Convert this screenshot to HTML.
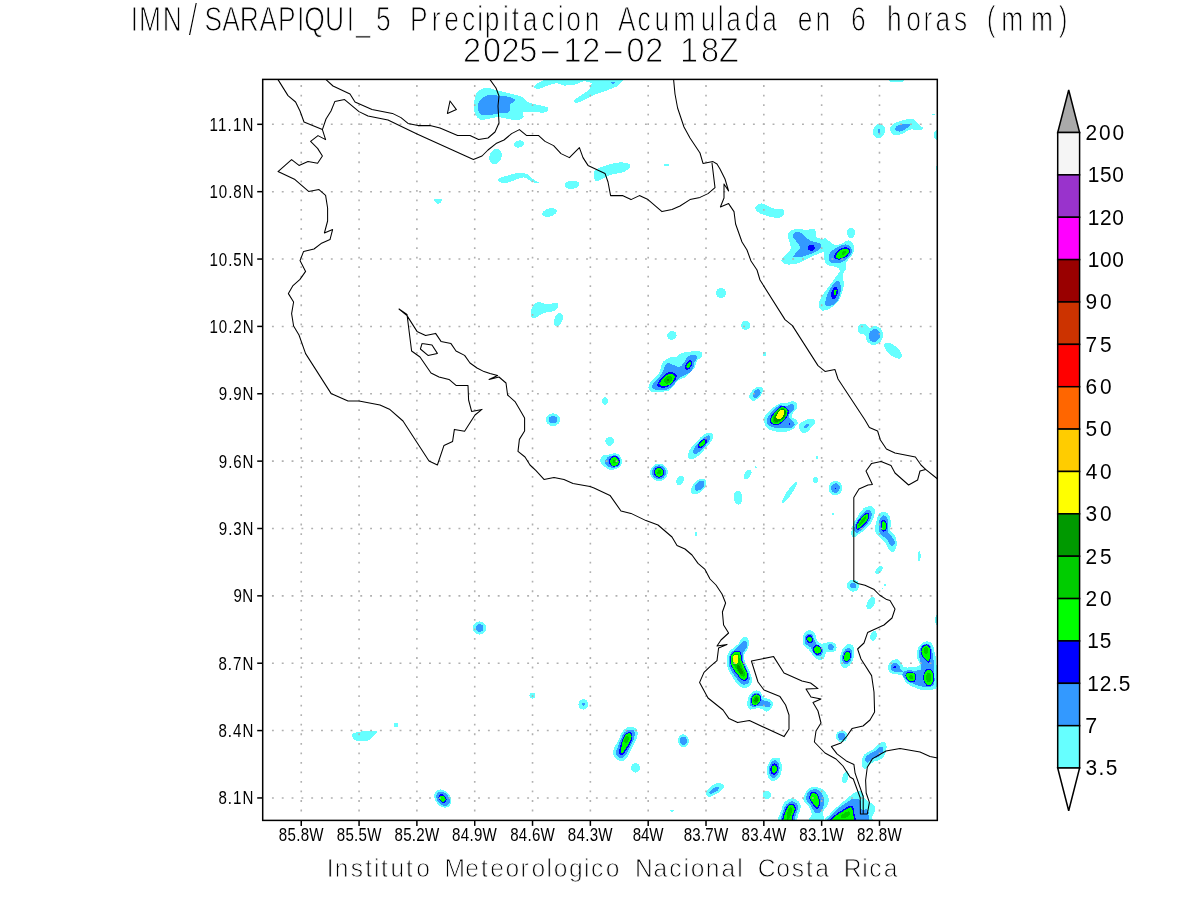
<!DOCTYPE html>
<html lang="es"><head><meta charset="utf-8">
<title>IMN/SARAPIQUI_5 Precipitacion Acumulada en 6 horas (mm)</title>
<style>
html,body{margin:0;padding:0;background:#fff;}
body{width:1200px;height:900px;overflow:hidden;position:relative;}
svg{position:absolute;left:0;top:0;display:block;}
text{font-family:"Liberation Sans",sans-serif;white-space:pre;}
.title{font-size:34.5px;fill:#000;stroke:#fff;stroke-width:1px;}
.ax{font-size:18.2px;fill:#000;stroke:#fff;stroke-width:0px;}
.cb{font-size:21.3px;fill:#000;stroke:#fff;stroke-width:0px;}
.foot{font-size:25.4px;fill:#000;stroke:#fff;stroke-width:0.85px;}
.coast{fill:none;stroke:#000;stroke-width:1.05;stroke-linejoin:round;stroke-linecap:round;}
.grid{fill:none;stroke:#b0b0b0;}
.gv{stroke-width:1.6;stroke-dasharray:1.8 7.733;}
.gh{stroke-width:1.55;stroke-dasharray:1.9 7.916;}
</style></head><body>
<svg width="1200" height="900" viewBox="0 0 1200 900">
<rect x="0" y="0" width="1200" height="900" fill="#fff"/>
<defs><clipPath id="mapclip"><rect x="262.7" y="79.4" width="674.6" height="741.0"/></clipPath></defs>
<g clip-path="url(#mapclip)" id="precip" shape-rendering="crispEdges">
<g fill="#66ffff">
<path d="M434.0 199.6C434.8 198.9 441.0 198.8 442.0 199.4C443.0 200.0 440.8 202.3 440.0 203.0C439.2 203.7 438.0 204.2 437.0 203.6C436.0 203.0 433.2 200.3 434.0 199.6Z"/>
<path d="M474.0 106.0C474.2 102.7 474.7 96.8 476.0 94.0C477.3 91.2 480.0 90.0 482.0 89.0C484.0 88.0 485.7 87.8 488.0 88.0C490.3 88.2 492.0 89.0 496.0 90.0C500.0 91.0 507.7 92.8 512.0 94.0C516.3 95.2 519.3 95.7 522.0 97.0C524.7 98.3 525.3 100.7 528.0 102.0C530.7 103.3 534.8 104.2 538.0 105.0C541.2 105.8 545.3 106.2 547.0 107.0C548.7 107.8 548.5 109.1 548.0 110.0C547.5 110.9 546.7 112.3 544.0 112.6C541.3 112.9 535.5 112.1 532.0 112.0C528.5 111.9 524.4 111.2 523.0 112.0C521.6 112.8 524.4 115.7 523.6 117.0C522.8 118.3 520.6 119.7 518.0 120.0C515.4 120.3 511.3 119.5 508.0 119.0C504.7 118.5 501.3 117.0 498.0 117.0C494.7 117.0 491.0 118.6 488.0 119.0C485.0 119.4 482.2 120.4 480.0 119.6C477.8 118.8 476.0 116.3 475.0 114.0C474.0 111.7 473.8 109.3 474.0 106.0Z"/>
<path d="M533.0 87.0L538.0 83.0L546.0 79.0L624.0 79.0L618.0 86.0L608.0 90.0L596.0 94.0L584.0 100.0L576.0 103.6L573.0 101.0L580.0 96.0L589.0 90.0L592.0 83.0L584.0 81.0L574.0 85.0L564.0 85.6L557.0 83.0L546.0 86.0L538.0 89.6Z"/>
<ellipse cx="519.0" cy="144.0" rx="5.5" ry="3.5" transform="rotate(-10 519.0 144.0)"/>
<ellipse cx="495.5" cy="156.5" rx="6.0" ry="8.0" transform="rotate(20 495.5 156.5)"/>
<path d="M498.0 179.0C498.7 177.8 502.7 177.0 506.0 176.0C509.3 175.0 514.5 173.3 518.0 173.0C521.5 172.7 524.5 173.0 527.0 174.0C529.5 175.0 531.1 177.6 533.0 179.0C534.9 180.4 538.8 182.1 538.6 182.6C538.4 183.1 534.1 182.8 532.0 182.0C529.9 181.2 528.0 178.7 526.0 178.0C524.0 177.3 522.7 177.3 520.0 178.0C517.3 178.7 513.0 181.2 510.0 182.0C507.0 182.8 504.0 183.5 502.0 183.0C500.0 182.5 497.3 180.2 498.0 179.0Z"/>
<ellipse cx="572.0" cy="184.8" rx="7.5" ry="4.0" transform="rotate(-5 572.0 184.8)"/>
<ellipse cx="549.4" cy="212.6" rx="7.5" ry="4.0" transform="rotate(-15 549.4 212.6)"/>
<path d="M594.0 174.0C594.1 172.5 593.3 171.3 595.0 170.0C596.7 168.7 599.8 167.3 604.0 166.0C608.2 164.7 615.8 162.7 620.0 162.4C624.2 162.1 627.3 163.2 629.0 164.0C630.7 164.8 630.8 165.7 630.0 167.0C629.2 168.3 627.3 170.7 624.0 172.0C620.7 173.3 614.3 173.5 610.0 175.0C605.7 176.5 600.6 180.3 598.0 181.0C595.4 181.7 595.1 180.2 594.4 179.0C593.7 177.8 593.9 175.5 594.0 174.0Z"/>
<ellipse cx="666.4" cy="165.0" rx="2.5" ry="1.5"/>
<ellipse cx="896.5" cy="79.5" rx="8.5" ry="3.0"/>
<ellipse cx="879.0" cy="131.0" rx="6.0" ry="7.3" transform="rotate(15 879.0 131.0)"/>
<path d="M890.0 130.0C889.7 128.3 890.3 126.5 892.0 125.0C893.7 123.5 896.5 122.0 900.0 121.0C903.5 120.0 910.0 118.5 913.0 119.0C916.0 119.5 916.3 122.5 918.0 124.0C919.7 125.5 922.7 127.0 923.0 128.0C923.3 129.0 922.2 129.7 920.0 130.0C917.8 130.3 913.0 128.9 910.0 129.6C907.0 130.3 904.7 133.1 902.0 134.0C899.3 134.9 896.0 135.7 894.0 135.0C892.0 134.3 890.3 131.7 890.0 130.0Z"/>
<ellipse cx="933.6" cy="114.4" rx="1.5" ry="0.7"/>
<ellipse cx="937.5" cy="135.0" rx="3.5" ry="5.5"/>
<ellipse cx="937.0" cy="168.0" rx="1.0" ry="2.5"/>
<path d="M755.0 208.0C755.0 206.7 756.7 205.1 758.0 204.4C759.3 203.7 761.0 203.2 763.0 203.6C765.0 204.0 767.8 206.1 770.0 207.0C772.2 207.9 773.8 208.6 776.0 209.0C778.2 209.4 781.7 208.6 783.0 209.4C784.3 210.2 784.5 212.6 784.0 214.0C783.5 215.4 781.7 217.0 780.0 217.6C778.3 218.2 776.7 218.0 774.0 217.6C771.3 217.2 766.7 215.9 764.0 215.0C761.3 214.1 759.5 213.2 758.0 212.0C756.5 210.8 755.0 209.3 755.0 208.0Z"/>
<ellipse cx="851.0" cy="233.0" rx="4.0" ry="5.0"/>
<path d="M781.3 260.6C781.1 259.2 783.9 257.5 785.4 255.4C787.0 253.3 790.2 251.2 790.7 248.1C791.1 245.0 788.2 239.4 788.1 236.6C787.9 233.8 788.3 232.6 789.6 231.4C790.9 230.1 793.1 229.4 795.9 229.1C798.7 228.8 803.2 229.8 806.3 229.8C809.5 229.9 813.0 228.2 814.7 229.3C816.3 230.4 815.2 235.1 816.2 236.6C817.3 238.2 819.3 238.4 820.9 238.7C822.6 239.1 824.3 237.9 826.2 238.7C828.0 239.5 830.0 242.4 831.9 243.4C833.8 244.4 835.8 245.1 837.6 245.0C839.5 244.9 841.0 243.7 842.9 242.9C844.7 242.1 846.9 240.0 848.6 240.3C850.3 240.5 852.3 242.9 853.3 244.4C854.3 246.0 854.6 247.8 854.3 249.7C854.1 251.5 852.8 253.8 851.7 255.4C850.7 257.1 849.0 258.2 848.1 259.6C847.1 261.0 846.3 262.2 846.0 263.8C845.6 265.3 846.4 267.4 846.0 269.0C845.6 270.5 843.8 271.2 843.4 273.2C843.0 275.1 843.3 278.4 843.4 280.5C843.5 282.6 844.2 283.6 843.9 285.7C843.6 287.8 842.9 290.2 841.8 293.0C840.8 295.8 839.6 299.9 837.6 302.4C835.7 304.9 832.8 306.7 830.3 308.1C827.9 309.5 824.9 311.0 823.0 310.7C821.1 310.5 819.4 308.3 818.9 306.6C818.3 304.8 819.0 302.6 819.9 300.3C820.8 298.0 822.3 295.6 824.1 293.0C825.8 290.4 828.4 287.3 830.3 284.6C832.2 282.0 834.0 279.6 835.6 277.3C837.1 275.1 839.6 272.8 839.7 271.1C839.9 269.3 838.3 267.8 836.6 266.9C834.9 266.0 831.2 266.5 829.3 265.9C827.4 265.2 826.0 264.3 825.1 262.7C824.2 261.2 824.2 258.2 824.1 256.5C823.9 254.7 825.3 252.6 824.1 252.3C822.9 251.9 819.7 253.1 816.8 254.4C813.8 255.6 809.8 258.0 806.3 259.6C802.8 261.2 799.2 263.0 795.9 263.8C792.6 264.5 788.9 264.8 786.5 264.3C784.0 263.8 781.4 262.1 781.3 260.6Z"/>
<ellipse cx="851.0" cy="232.4" rx="4.0" ry="4.4"/>
<ellipse cx="721.0" cy="293.0" rx="5.0" ry="5.0"/>
<ellipse cx="745.6" cy="325.4" rx="4.5" ry="4.5"/>
<ellipse cx="764.4" cy="354.0" rx="1.5" ry="2.0"/>
<ellipse cx="863.0" cy="329.0" rx="5.5" ry="5.5"/>
<ellipse cx="874.4" cy="335.6" rx="5.5" ry="6.5" transform="rotate(20 874.4 335.6)" stroke="#66ffff" stroke-width="6.0" stroke-linejoin="round"/>
<ellipse cx="868.0" cy="332.0" rx="5.0" ry="4.5" transform="rotate(30 868.0 332.0)"/>
<ellipse cx="893.0" cy="350.6" rx="11.0" ry="5.0" transform="rotate(40 893.0 350.6)"/>
<path d="M749.0 396.1C749.1 394.9 750.1 393.4 751.3 392.0C752.4 390.6 754.0 388.3 755.8 387.5C757.5 386.7 760.6 386.6 761.8 387.1C762.9 387.6 763.0 389.2 762.9 390.5C762.8 391.8 761.9 393.6 761.0 395.0C760.1 396.4 758.5 397.8 757.3 398.8C756.0 399.8 754.6 400.9 753.5 401.0C752.4 401.1 751.3 399.9 750.5 399.1C749.8 398.3 748.9 397.3 749.0 396.1Z"/>
<path d="M764.0 420.5C764.0 418.8 764.3 417.1 765.5 415.3C766.8 413.4 769.4 411.1 771.5 409.3C773.6 407.4 776.0 405.0 778.3 404.0C780.5 403.0 782.8 403.7 785.0 403.3C787.3 402.8 789.9 401.5 791.8 401.4C793.6 401.3 795.4 401.4 796.3 402.5C797.1 403.6 797.4 406.3 797.0 407.8C796.6 409.3 794.9 410.3 794.0 411.5C793.1 412.8 792.0 414.2 791.8 415.3C791.5 416.3 791.8 417.1 792.5 417.9C793.3 418.6 795.4 418.8 796.3 419.8C797.1 420.7 797.9 422.4 797.8 423.5C797.6 424.6 796.4 425.5 795.5 426.5C794.6 427.5 794.0 428.6 792.5 429.5C791.0 430.4 788.5 431.3 786.5 431.8C784.5 432.3 782.5 432.6 780.5 432.5C778.5 432.4 776.4 431.5 774.5 431.0C772.6 430.5 770.8 430.4 769.3 429.5C767.8 428.6 766.4 427.3 765.5 425.8C764.6 424.3 764.0 422.3 764.0 420.5Z"/>
<path d="M799.3 428.0C799.0 426.9 798.5 425.4 799.3 424.3C800.0 423.1 801.9 421.8 803.8 420.9C805.6 419.9 808.7 418.8 810.5 418.6C812.3 418.5 813.9 419.3 814.6 420.1C815.3 420.9 815.2 422.3 814.6 423.5C814.1 424.7 812.4 425.9 811.3 427.3C810.1 428.6 808.9 430.8 807.5 431.8C806.1 432.7 804.1 433.0 803.0 432.9C801.9 432.8 801.4 431.8 800.8 431.0C800.1 430.2 799.5 429.1 799.3 428.0Z"/>
<path d="M531.0 315.0C530.9 313.5 530.9 310.9 531.6 309.0C532.3 307.1 533.6 304.8 535.0 303.6C536.4 302.4 538.2 301.9 540.0 302.0C541.8 302.1 543.2 304.2 546.0 304.4C548.8 304.6 555.0 302.6 557.0 303.0C559.0 303.4 558.5 305.7 558.0 307.0C557.5 308.3 556.3 310.0 554.0 311.0C551.7 312.0 546.8 312.0 544.0 313.0C541.2 314.0 538.9 316.2 537.0 317.0C535.1 317.8 533.4 318.3 532.4 318.0C531.4 317.7 531.1 316.5 531.0 315.0Z"/>
<ellipse cx="558.4" cy="319.6" rx="4.0" ry="7.0" transform="rotate(20 558.4 319.6)"/>
<ellipse cx="605.0" cy="401.0" rx="3.0" ry="3.8"/>
<ellipse cx="553.0" cy="419.6" rx="4.5" ry="3.5" stroke="#66ffff" stroke-width="5.6" stroke-linejoin="round"/>
<ellipse cx="671.9" cy="335.4" rx="4.7" ry="4.3" transform="rotate(-20 671.9 335.4)"/>
<path d="M648.9 389.9C648.4 388.7 648.1 386.3 648.9 384.4C649.8 382.6 652.3 380.9 654.0 379.0C655.8 377.1 658.1 375.2 659.4 372.8C660.7 370.3 660.7 366.4 661.8 364.2C662.8 362.0 664.1 360.7 665.7 359.6C667.2 358.4 669.3 357.6 671.1 357.2C672.9 356.8 674.9 357.9 676.6 357.2C678.2 356.5 679.3 353.8 681.2 352.9C683.2 352.1 686.0 352.5 688.2 352.2C690.4 351.8 692.2 351.0 694.4 351.0C696.7 351.0 700.6 351.3 701.8 352.2C703.1 353.1 702.7 355.0 701.8 356.4C701.0 357.9 698.0 359.2 696.8 361.1C695.5 363.1 695.6 366.2 694.4 368.1C693.3 370.1 691.3 371.2 689.8 372.8C688.2 374.3 686.9 376.3 685.1 377.4C683.3 378.6 680.8 378.4 678.9 379.8C676.9 381.2 675.1 384.2 673.4 386.0C671.8 387.8 671.1 389.7 668.8 390.7C666.4 391.6 662.2 391.6 659.4 391.8C656.7 392.0 654.2 392.2 652.4 391.8C650.7 391.5 649.5 391.1 648.9 389.9Z"/>
<ellipse cx="609.7" cy="441.2" rx="4.3" ry="4.5" transform="rotate(30 609.7 441.2)"/>
<path d="M600.3 460.7C600.4 459.4 600.6 456.9 601.9 455.9C603.3 454.9 606.2 455.2 608.4 454.8C610.6 454.3 613.0 453.1 614.9 453.2C616.8 453.3 618.6 454.1 619.8 455.3C621.0 456.6 621.8 459.0 622.0 460.7C622.1 462.5 621.7 464.4 620.9 465.6C620.1 466.9 618.8 467.6 617.1 468.3C615.4 469.1 612.6 470.1 610.6 470.0C608.6 469.8 606.7 468.2 605.2 467.2C603.6 466.3 602.2 465.1 601.4 464.0C600.6 462.9 600.2 462.1 600.3 460.7Z"/>
<ellipse cx="659.0" cy="472.4" rx="8.9" ry="8.7"/>
<ellipse cx="680.1" cy="480.5" rx="3.5" ry="4.9" transform="rotate(30 680.1 480.5)"/>
<ellipse cx="698.7" cy="486.4" rx="5.4" ry="9.7" transform="rotate(45 698.7 486.4)"/>
<path d="M688.0 456.4C688.0 455.2 688.1 453.0 689.1 451.0C690.1 449.0 692.1 446.8 694.0 444.5C695.9 442.2 698.5 439.3 700.5 437.5C702.5 435.7 704.1 434.4 705.9 433.7C707.7 432.9 710.1 432.5 711.3 432.8C712.6 433.1 713.2 434.1 713.3 435.3C713.4 436.5 712.9 438.3 711.9 440.2C710.8 442.1 708.7 444.6 707.0 446.7C705.3 448.7 703.4 450.8 701.6 452.6C699.8 454.4 697.8 456.4 696.2 457.5C694.5 458.6 693.0 458.9 691.8 459.1C690.7 459.3 689.8 459.0 689.1 458.6C688.5 458.1 688.0 457.7 688.0 456.4Z"/>
<ellipse cx="696.0" cy="534.0" rx="1.3" ry="2.0"/>
<ellipse cx="709.0" cy="437.0" rx="4.0" ry="4.5"/>
<ellipse cx="817.0" cy="457.6" rx="1.0" ry="1.5"/>
<ellipse cx="747.6" cy="474.4" rx="3.0" ry="5.5" transform="rotate(35 747.6 474.4)"/>
<ellipse cx="755.6" cy="467.4" rx="1.0" ry="1.0"/>
<ellipse cx="789.5" cy="492.5" rx="2.5" ry="13.0" transform="rotate(35 789.5 492.5)"/>
<ellipse cx="738.0" cy="497.6" rx="4.5" ry="7.0" transform="rotate(-5 738.0 497.6)"/>
<ellipse cx="815.5" cy="479.8" rx="2.6" ry="2.9"/>
<ellipse cx="835.4" cy="488.1" rx="6.8" ry="7.2" transform="rotate(20 835.4 488.1)"/>
<ellipse cx="832.9" cy="513.8" rx="1.0" ry="1.0"/>
<path d="M851.3 535.0C851.0 533.0 851.6 528.0 852.7 524.9C853.8 521.8 856.0 519.0 857.8 516.2C859.6 513.5 861.4 510.0 863.6 508.3C865.7 506.6 869.0 506.0 870.8 506.1C872.6 506.2 873.8 507.6 874.4 509.0C875.0 510.4 875.0 512.4 874.4 514.8C873.8 517.2 872.6 520.8 870.8 523.4C869.0 526.1 865.7 528.7 863.6 530.7C861.4 532.6 859.3 533.9 857.8 535.0C856.2 536.1 855.3 537.2 854.2 537.2C853.1 537.2 851.5 537.0 851.3 535.0Z"/>
<path d="M875.1 530.7C874.8 528.0 875.8 523.4 876.6 520.6C877.3 517.7 878.0 514.8 879.4 513.3C880.9 511.9 883.5 511.4 885.2 511.9C886.9 512.4 888.6 514.1 889.6 516.2C890.5 518.4 890.9 522.5 891.0 524.9C891.1 527.3 889.6 528.7 890.3 530.7C891.0 532.6 894.3 534.0 895.3 536.4C896.4 538.9 896.9 542.7 896.8 545.1C896.7 547.5 895.5 549.7 894.6 550.9C893.8 552.1 892.8 552.8 891.7 552.3C890.6 551.9 889.2 549.7 888.1 548.0C887.0 546.3 886.8 544.1 885.2 542.2C883.7 540.3 880.4 538.4 878.7 536.4C877.0 534.5 875.5 533.3 875.1 530.7Z"/>
<ellipse cx="919.2" cy="556.4" rx="1.4" ry="5.1"/>
<ellipse cx="879.0" cy="570.1" rx="2.6" ry="4.6" transform="rotate(40 879.0 570.1)"/>
<ellipse cx="853.2" cy="585.6" rx="6.1" ry="6.1"/>
<ellipse cx="885.2" cy="585.1" rx="1.0" ry="1.0"/>
<ellipse cx="882.3" cy="588.2" rx="0.7" ry="0.7"/>
<ellipse cx="479.6" cy="628.0" rx="3.8" ry="3.8" stroke="#66ffff" stroke-width="5.6" stroke-linejoin="round"/>
<path d="M352.0 735.0C352.4 733.9 353.7 733.1 356.0 732.4C358.3 731.7 362.5 731.2 366.0 731.0C369.5 730.8 376.0 730.0 377.0 731.0C378.0 732.0 373.5 735.4 372.0 737.0C370.5 738.6 370.3 739.9 368.0 740.6C365.7 741.3 360.4 741.3 358.0 741.0C355.6 740.7 354.6 740.0 353.6 739.0C352.6 738.0 351.6 736.1 352.0 735.0Z"/>
<ellipse cx="396.0" cy="725.0" rx="2.5" ry="2.0"/>
<ellipse cx="532.4" cy="695.6" rx="3.0" ry="3.0"/>
<ellipse cx="583.4" cy="704.4" rx="5.0" ry="5.2"/>
<path d="M727.0 663.5C726.8 660.8 726.6 656.7 727.6 654.2C728.6 651.6 731.0 650.1 732.8 648.3C734.7 646.6 737.1 645.4 738.7 643.7C740.2 641.9 740.8 638.9 742.2 637.8C743.5 636.8 745.7 636.5 746.8 637.3C748.0 638.0 749.1 640.5 749.2 642.5C749.3 644.5 748.3 647.4 747.4 649.5C746.5 651.6 744.3 653.2 743.9 655.3C743.5 657.5 744.1 659.6 745.1 662.3C746.1 665.1 748.6 668.8 749.8 671.7C750.9 674.6 752.1 677.5 752.1 679.8C752.1 682.2 751.0 684.3 749.8 685.7C748.5 687.0 746.3 688.0 744.5 688.0C742.7 688.0 740.6 687.4 738.7 685.7C736.7 683.9 734.5 680.0 732.8 677.5C731.2 675.0 729.7 672.8 728.8 670.5C727.8 668.2 727.2 666.2 727.0 663.5Z"/>
<path d="M747.4 703.2C747.5 701.3 747.5 698.2 748.6 696.2C749.7 694.1 751.9 691.7 753.8 690.9C755.8 690.1 758.7 690.4 760.3 691.5C761.8 692.6 761.7 696.1 763.2 697.3C764.6 698.6 767.3 698.1 769.0 699.1C770.7 700.1 772.7 701.6 773.1 703.2C773.5 704.7 772.4 707.0 771.3 708.4C770.3 709.9 768.2 711.8 766.7 711.9C765.1 712.0 763.8 709.6 762.0 709.0C760.3 708.4 758.1 708.3 756.2 708.4C754.2 708.5 751.7 709.8 750.3 709.6C749.0 709.4 748.5 708.3 748.0 707.3C747.5 706.2 747.3 705.0 747.4 703.2Z"/>
<path d="M803.4 644.8C802.5 642.5 802.8 637.8 803.4 635.5C804.0 633.2 805.5 631.6 806.9 630.8C808.4 630.1 810.7 630.1 812.2 630.8C813.6 631.6 814.9 633.9 815.7 635.5C816.4 637.1 815.9 638.8 816.8 640.2C817.8 641.5 819.8 643.3 821.5 643.7C823.3 644.1 825.6 642.8 827.3 642.5C829.1 642.2 830.5 641.5 832.0 641.9C833.5 642.3 835.4 643.5 836.1 644.8C836.8 646.2 836.8 648.8 836.1 650.1C835.4 651.3 833.7 652.0 832.0 652.4C830.3 652.8 827.3 651.7 826.2 652.4C825.0 653.1 825.8 655.2 825.0 656.5C824.2 657.8 822.9 659.6 821.5 660.0C820.1 660.4 818.4 659.8 816.8 658.8C815.3 657.9 813.5 655.7 812.2 654.2C810.8 652.6 810.1 651.1 808.7 649.5C807.2 647.9 804.3 647.2 803.4 644.8Z"/>
<ellipse cx="847.2" cy="655.9" rx="6.8" ry="12.3" transform="rotate(15 847.2 655.9)"/>
<ellipse cx="870.8" cy="603.2" rx="3.7" ry="6.7" transform="rotate(25 870.8 603.2)"/>
<ellipse cx="873.5" cy="635.9" rx="3.3" ry="5.1" transform="rotate(15 873.5 635.9)"/>
<ellipse cx="936.8" cy="620.0" rx="1.5" ry="5.1"/>
<path d="M888.1 668.3C888.0 666.4 888.5 663.7 890.0 662.2C891.4 660.6 894.9 659.1 896.7 659.1C898.5 659.1 899.8 660.8 901.0 662.2C902.2 663.5 902.1 666.2 904.0 667.1C906.0 667.9 909.9 667.4 912.6 667.1C915.2 666.7 919.1 666.6 919.9 665.2C920.7 663.8 918.0 660.8 917.5 658.5C917.0 656.1 916.3 653.6 916.9 651.2C917.5 648.7 919.5 645.4 921.2 643.8C922.8 642.2 924.8 641.4 926.7 641.4C928.5 641.4 930.7 641.6 932.2 643.8C933.6 646.1 934.5 651.6 935.2 654.8C935.9 658.1 936.1 658.3 936.4 663.4C936.7 668.5 937.8 681.0 937.1 685.4C936.3 689.8 934.4 688.9 932.2 689.7C929.9 690.5 926.7 690.7 923.6 690.3C920.5 689.9 916.7 688.5 913.8 687.2C911.0 686.0 908.4 684.9 906.5 683.0C904.5 681.0 903.8 677.0 902.2 675.6C900.6 674.2 898.6 674.8 896.7 674.4C894.8 674.0 892.0 674.2 890.6 673.2C889.2 672.2 888.2 670.1 888.1 668.3Z"/>
<ellipse cx="774.4" cy="769.4" rx="7.4" ry="11.7" transform="rotate(8 774.4 769.4)"/>
<ellipse cx="766.7" cy="794.8" rx="4.1" ry="4.1"/>
<path d="M803.2 798.8C803.5 796.9 805.3 792.6 806.7 790.7C808.0 788.7 809.2 787.7 811.3 787.2C813.5 786.7 817.2 787.0 819.5 787.8C821.8 788.5 823.8 790.0 825.3 791.8C826.9 793.7 828.5 796.5 828.8 798.8C829.1 801.2 828.1 803.7 827.1 805.8C826.1 808.0 823.7 809.3 823.0 811.7C822.3 814.0 825.3 818.7 823.0 820.1C820.7 821.5 810.8 821.1 809.0 820.1C807.2 819.1 811.9 816.2 811.9 814.0C811.9 811.8 810.2 808.9 809.0 807.0C807.8 805.1 805.9 803.7 804.9 802.3C803.9 801.0 802.9 800.8 803.2 798.8Z"/>
<path d="M778.7 822.2C776.4 820.0 780.6 812.6 781.6 809.3C782.6 806.0 782.8 804.2 784.5 802.3C786.2 800.5 789.2 798.4 791.5 798.3C793.8 798.1 796.9 799.7 798.5 801.2C800.1 802.6 800.8 804.9 800.8 807.0C800.8 809.1 799.5 811.5 798.5 814.0C797.5 816.5 798.3 820.8 795.0 822.2C791.7 823.5 780.9 824.3 778.7 822.2Z"/>
<path d="M826.5 822.2C820.1 820.8 828.3 816.5 830.0 814.0C831.8 811.5 834.5 809.3 837.0 807.0C839.5 804.7 842.4 802.2 845.2 800.0C847.9 797.8 851.0 795.1 853.3 793.6C855.7 792.0 857.6 790.8 859.2 790.7C860.7 790.6 861.7 791.6 862.7 793.0C863.6 794.4 863.8 797.3 865.0 798.8C866.2 800.4 868.1 801.2 869.7 802.3C871.2 803.5 873.5 804.3 874.3 805.8C875.2 807.4 875.3 809.9 874.9 811.7C874.5 813.4 873.1 814.6 872.0 816.3C870.9 818.1 876.1 821.2 868.5 822.2C860.9 823.1 832.9 823.5 826.5 822.2Z"/>
<ellipse cx="845.4" cy="777.3" rx="2.9" ry="6.4" transform="rotate(15 845.4 777.3)"/>
<ellipse cx="841.7" cy="736.4" rx="5.8" ry="5.8"/>
<path d="M862.1 763.8C862.1 762.1 861.8 758.8 862.7 756.8C863.5 754.9 865.4 753.5 867.3 752.2C869.3 750.8 872.4 750.1 874.3 748.7C876.3 747.2 877.3 744.5 879.0 743.4C880.7 742.3 883.0 741.8 884.3 742.3C885.5 742.7 886.4 744.5 886.6 746.3C886.8 748.2 886.3 751.2 885.4 753.3C884.5 755.5 883.2 757.8 881.3 759.2C879.5 760.5 876.3 760.5 874.3 761.5C872.4 762.5 871.1 763.7 869.7 765.0C868.2 766.3 866.8 768.7 865.6 769.1C864.4 769.5 863.3 768.2 862.7 767.3C862.1 766.5 862.1 765.6 862.1 763.8Z"/>
<path d="M613.0 752.0C613.1 750.2 614.2 748.2 615.2 746.0C616.2 743.8 617.8 741.3 619.0 739.0C620.1 736.6 620.9 733.8 622.2 731.9C623.6 730.0 625.2 728.4 627.1 727.6C629.0 726.8 631.9 726.5 633.6 727.0C635.3 727.6 636.7 729.3 637.4 730.8C638.0 732.4 637.8 734.3 637.4 736.2C636.9 738.2 635.7 740.6 634.7 742.7C633.7 744.9 632.5 747.1 631.4 749.2C630.3 751.4 629.4 753.9 628.2 755.7C626.9 757.6 625.4 759.8 623.8 760.6C622.3 761.4 620.5 761.3 619.0 760.6C617.4 760.0 615.6 758.3 614.6 756.8C613.6 755.4 612.9 753.8 613.0 752.0Z"/>
<ellipse cx="635.5" cy="767.9" rx="4.5" ry="4.8"/>
<ellipse cx="683.4" cy="740.8" rx="5.4" ry="6.5"/>
<path d="M706.2 794.7C705.7 793.7 705.8 791.9 706.7 790.4C707.6 789.0 709.9 787.3 711.6 786.1C713.3 784.8 715.2 783.2 717.0 782.8C718.8 782.5 721.2 783.2 722.4 783.9C723.6 784.6 724.4 785.9 724.0 787.2C723.7 788.4 721.8 790.2 720.2 791.5C718.7 792.8 716.6 793.8 714.8 794.7C713.0 795.7 710.9 796.9 709.4 796.9C708.0 796.9 706.6 795.8 706.2 794.7Z"/>
<path d="M670.2 810.1L673.9 810.1L672.0 812.7Z"/>
<ellipse cx="442.8" cy="798.5" rx="7.5" ry="10.0" transform="rotate(-40 442.8 798.5)"/>
<ellipse cx="776.0" cy="759.5" rx="4.0" ry="2.0"/>
</g>
<g fill="#3399ff">
<path d="M478.0 106.0C478.0 103.7 478.3 101.8 480.0 100.0C481.7 98.2 484.7 95.7 488.0 95.0C491.3 94.3 496.3 95.7 500.0 96.0C503.7 96.3 507.5 96.3 510.0 97.0C512.5 97.7 515.0 99.1 515.0 100.4C515.0 101.7 511.0 103.1 510.0 105.0C509.0 106.9 510.7 110.7 509.0 112.0C507.3 113.3 503.2 112.5 500.0 113.0C496.8 113.5 493.3 114.8 490.0 115.0C486.7 115.2 482.0 115.5 480.0 114.0C478.0 112.5 478.0 108.3 478.0 106.0Z"/>
<ellipse cx="613.0" cy="82.6" rx="2.5" ry="1.0"/>
<ellipse cx="879.0" cy="131.2" rx="1.5" ry="2.2"/>
<path d="M895.0 129.0C894.8 127.9 896.5 125.8 899.0 125.0C901.5 124.2 908.7 123.5 910.0 124.0C911.3 124.5 908.7 126.7 907.0 128.0C905.3 129.3 902.0 131.4 900.0 131.6C898.0 131.8 895.2 130.1 895.0 129.0Z"/>
<path d="M793.3 256.5C793.1 254.8 800.1 250.2 800.1 247.1C800.1 243.9 794.2 240.0 793.3 237.7C792.3 235.3 793.2 233.8 794.3 233.0C795.4 232.1 798.2 231.8 800.1 232.4C801.9 233.0 803.5 235.2 805.3 236.6C807.0 238.0 808.1 239.7 810.5 240.8C812.9 241.9 818.2 242.4 819.9 243.4C821.6 244.4 821.5 245.8 820.9 247.1C820.4 248.4 818.7 250.0 816.8 251.2C814.8 252.5 812.1 253.4 809.5 254.4C806.8 255.3 803.8 256.6 801.1 257.0C798.4 257.3 793.4 258.1 793.3 256.5Z"/>
<path d="M828.8 257.5C828.9 256.0 828.9 254.0 830.3 252.3C831.8 250.5 835.0 248.4 837.6 247.1C840.3 245.8 843.8 244.4 846.0 244.4C848.2 244.4 849.7 245.8 850.7 247.1C851.7 248.4 852.2 250.5 851.7 252.3C851.3 254.0 849.7 255.8 848.1 257.5C846.4 259.2 844.3 261.2 841.8 262.2C839.4 263.2 835.5 263.4 833.5 263.2C831.5 263.1 830.6 262.1 829.8 261.2C829.0 260.2 828.7 259.0 828.8 257.5Z"/>
<path d="M825.1 303.4C825.3 301.7 826.2 297.9 827.2 295.1C828.2 292.3 829.6 289.2 831.4 286.7C833.1 284.3 836.2 281.0 837.6 280.5C839.1 279.9 839.7 282.0 840.3 283.6C840.8 285.2 840.9 287.6 840.8 289.9C840.6 292.1 840.1 294.9 839.2 297.2C838.3 299.4 837.2 302.0 835.6 303.4C833.9 304.9 830.9 305.7 829.3 306.0C827.7 306.4 826.9 306.0 826.2 305.5C825.5 305.1 824.9 305.2 825.1 303.4Z"/>
<ellipse cx="874.4" cy="335.6" rx="5.5" ry="6.5" transform="rotate(20 874.4 335.6)"/>
<path d="M752.4 395.0C752.3 393.9 753.4 392.6 754.3 391.6C755.1 390.6 756.6 388.9 757.6 389.0C758.7 389.1 760.5 391.2 760.6 392.4C760.8 393.6 759.3 395.2 758.4 396.1C757.4 397.1 756.0 398.2 755.0 398.0C754.0 397.8 752.5 396.1 752.4 395.0Z"/>
<path d="M767.0 421.3C767.1 419.9 767.4 417.9 768.5 416.0C769.6 414.1 772.0 411.8 773.8 410.0C775.5 408.3 776.9 406.2 779.0 405.5C781.1 404.8 784.4 406.1 786.5 405.9C788.6 405.6 790.5 403.9 791.8 404.0C793.0 404.1 793.7 405.3 794.0 406.3C794.3 407.3 794.3 408.9 793.6 410.0C793.0 411.1 791.1 411.8 790.3 413.0C789.4 414.3 788.4 416.3 788.8 417.5C789.1 418.8 791.5 419.4 792.5 420.5C793.5 421.6 794.8 423.1 794.8 424.3C794.8 425.4 793.9 426.6 792.5 427.3C791.1 427.9 788.8 428.3 786.5 428.4C784.3 428.5 781.4 428.2 779.0 428.0C776.6 427.8 774.1 427.9 772.3 427.3C770.4 426.6 768.6 425.3 767.8 424.3C766.9 423.3 766.9 422.6 767.0 421.3Z"/>
<ellipse cx="806.5" cy="426.1" rx="2.9" ry="1.4" transform="rotate(-45 806.5 426.1)"/>
<ellipse cx="553.0" cy="419.6" rx="4.5" ry="3.5"/>
<path d="M652.1 386.8C651.8 385.5 652.8 383.8 654.0 382.1C655.2 380.4 657.9 378.5 659.4 376.7C661.0 374.9 662.4 373.0 663.3 371.2C664.2 369.4 664.1 367.1 664.9 365.8C665.7 364.4 666.6 363.2 668.0 363.1C669.4 362.9 671.6 364.4 673.4 365.0C675.3 365.6 677.2 367.2 678.9 366.9C680.6 366.7 682.3 364.9 683.6 363.4C684.9 362.0 685.5 359.4 686.7 358.0C687.8 356.6 689.0 355.7 690.6 355.3C692.1 354.8 695.0 354.8 696.0 355.3C697.0 355.7 697.0 356.8 696.8 358.0C696.5 359.2 695.1 360.9 694.4 362.7C693.8 364.5 693.9 367.1 692.9 368.9C691.9 370.7 690.0 372.3 688.2 373.6C686.4 374.9 683.8 375.6 682.0 376.7C680.2 377.7 678.9 378.2 677.3 379.8C675.8 381.3 674.4 384.4 672.7 386.0C671.0 387.6 670.1 388.9 667.2 389.5C664.4 390.1 658.1 390.3 655.6 389.9C653.0 389.4 652.3 388.1 652.1 386.8Z"/>
<path d="M605.2 461.3C605.5 460.1 606.2 458.0 607.9 457.0C609.5 456.0 613.0 455.2 614.9 455.3C616.8 455.4 618.3 456.5 619.2 457.5C620.2 458.5 620.6 459.8 620.5 461.3C620.5 462.7 619.8 465.1 618.7 466.2C617.6 467.2 615.5 467.7 613.8 467.8C612.1 467.9 609.8 467.3 608.4 466.7C607.1 466.1 606.2 464.9 605.7 464.0C605.2 463.1 604.8 462.5 605.2 461.3Z"/>
<ellipse cx="659.0" cy="472.4" rx="7.0" ry="7.0"/>
<ellipse cx="699.6" cy="485.7" rx="3.6" ry="6.0" transform="rotate(45 699.6 485.7)"/>
<path d="M692.9 452.1C692.9 451.0 693.5 449.5 694.5 447.7C695.6 446.0 697.7 443.6 699.4 441.8C701.1 440.0 703.2 438.0 704.8 436.9C706.5 435.8 708.3 435.2 709.2 435.3C710.1 435.4 710.4 436.3 710.2 437.5C710.1 438.6 709.2 440.6 708.1 442.3C707.0 444.0 705.4 446.0 703.7 447.7C702.1 449.5 699.9 451.6 698.3 452.6C696.8 453.7 695.4 454.1 694.5 454.0C693.6 453.9 692.9 453.1 692.9 452.1Z"/>
<ellipse cx="835.4" cy="488.1" rx="4.3" ry="4.8" transform="rotate(20 835.4 488.1)"/>
<path d="M854.2 530.7C853.9 529.1 854.5 525.9 855.6 523.4C856.7 521.0 859.0 518.4 860.7 516.2C862.4 514.1 864.0 511.3 865.7 510.4C867.4 509.6 869.8 510.2 870.8 511.2C871.7 512.1 872.0 514.2 871.5 516.2C871.0 518.3 869.5 521.3 867.9 523.4C866.3 525.6 863.9 527.7 862.1 529.2C860.3 530.8 858.4 532.6 857.1 532.8C855.7 533.1 854.4 532.2 854.2 530.7Z"/>
<path d="M878.7 529.9C878.5 527.7 878.7 523.0 879.4 520.6C880.2 518.1 881.7 515.9 883.1 515.5C884.4 515.1 886.5 516.6 887.4 518.4C888.2 520.2 888.0 524.0 888.1 526.3C888.2 528.6 887.1 529.9 888.1 532.1C889.1 534.3 892.8 537.4 893.9 539.3C895.0 541.3 895.1 542.6 894.6 543.7C894.1 544.8 892.3 546.6 891.0 545.8C889.7 545.1 888.4 541.3 886.7 539.3C885.0 537.4 882.2 535.8 880.9 534.3C879.6 532.7 879.0 532.2 878.7 529.9Z"/>
<ellipse cx="853.2" cy="585.6" rx="2.9" ry="2.9"/>
<ellipse cx="479.6" cy="628.0" rx="3.8" ry="3.8"/>
<ellipse cx="583.6" cy="704.2" rx="1.5" ry="1.5"/>
<path d="M728.8 662.3C728.8 660.0 728.8 656.3 729.9 654.2C731.0 652.0 733.5 651.1 735.2 649.5C736.8 647.9 738.5 646.3 739.8 644.8C741.2 643.4 742.2 641.1 743.3 640.8C744.5 640.4 746.3 641.4 746.8 642.5C747.4 643.6 747.5 645.3 746.8 647.2C746.2 649.0 743.3 651.3 742.8 653.6C742.2 655.9 742.5 658.2 743.3 661.2C744.2 664.2 746.9 668.8 748.0 671.7C749.1 674.6 749.8 676.7 749.8 678.7C749.8 680.6 749.1 682.4 748.0 683.3C746.9 684.3 744.9 684.9 743.3 684.5C741.8 684.1 740.3 682.8 738.7 681.0C737.0 679.3 734.9 676.1 733.4 674.0C732.0 671.9 730.7 670.1 729.9 668.2C729.1 666.2 728.8 664.7 728.8 662.3Z"/>
<path d="M749.8 703.2C749.8 701.6 750.0 698.5 750.9 696.8C751.8 695.0 753.4 693.1 755.0 692.7C756.6 692.3 759.1 693.3 760.3 694.4C761.4 695.6 760.5 698.4 762.0 699.7C763.5 700.9 767.5 701.1 769.0 702.0C770.5 702.9 770.9 704.0 770.8 704.9C770.6 705.8 769.3 707.2 767.8 707.3C766.4 707.3 764.1 705.6 762.0 705.5C759.9 705.4 756.8 706.6 755.0 706.7C753.2 706.8 751.8 706.7 750.9 706.1C750.0 705.5 749.8 704.7 749.8 703.2Z"/>
<path d="M805.2 643.7C804.3 641.9 804.7 638.3 805.2 636.7C805.7 635.0 806.9 634.1 808.1 633.8C809.3 633.4 811.2 633.5 812.2 634.3C813.1 635.2 813.1 637.3 813.9 639.0C814.7 640.7 815.6 642.9 816.8 644.3C818.1 645.6 820.5 645.9 821.5 647.2C822.5 648.4 822.8 650.4 822.7 651.8C822.6 653.3 821.9 655.2 820.9 655.9C819.9 656.6 818.1 656.5 816.8 655.9C815.6 655.3 814.4 653.9 813.3 652.4C812.3 651.0 811.8 648.6 810.4 647.2C809.1 645.7 806.0 645.4 805.2 643.7Z"/>
<ellipse cx="830.8" cy="647.2" rx="2.9" ry="2.9"/>
<ellipse cx="847.2" cy="656.2" rx="4.9" ry="8.4" transform="rotate(15 847.2 656.2)"/>
<path d="M890.6 667.7C890.5 666.5 891.1 664.9 892.0 664.1C893.0 663.3 894.9 662.7 896.1 662.9C897.3 663.1 898.4 664.2 899.1 665.2C899.9 666.2 899.6 667.8 900.4 668.9C901.1 670.0 903.4 671.2 903.4 671.7C903.4 672.3 901.5 672.2 900.4 672.2C899.2 672.2 898.0 672.1 896.7 671.9C895.4 671.8 893.8 672.0 892.8 671.3C891.8 670.6 890.7 668.9 890.6 667.7Z"/>
<path d="M902.2 674.4C902.3 673.3 903.5 671.9 904.6 671.2C905.8 670.5 907.4 670.3 908.9 670.2C910.5 670.2 911.9 670.8 913.8 670.7C915.8 670.6 919.3 670.6 920.5 669.7C921.8 668.9 921.6 667.7 921.4 665.8C921.2 664.0 920.0 660.9 919.6 658.5C919.2 656.0 918.5 653.3 919.0 651.2C919.4 649.0 920.7 647.0 922.0 645.8C923.3 644.6 925.2 643.9 926.7 644.1C928.1 644.2 929.9 644.5 930.9 646.5C932.0 648.5 932.5 652.8 933.0 656.0C933.5 659.3 933.9 662.6 934.1 665.8C934.3 669.1 934.3 672.7 934.4 675.6C934.4 678.6 934.9 681.7 934.4 683.6C933.8 685.4 932.7 686.1 930.9 686.6C929.1 687.2 926.3 687.2 923.6 686.9C921.0 686.5 917.6 685.3 915.0 684.4C912.5 683.5 910.1 682.6 908.3 681.5C906.5 680.4 905.3 679.0 904.3 677.8C903.3 676.6 902.1 675.5 902.2 674.4Z"/>
<ellipse cx="774.2" cy="769.1" rx="5.3" ry="8.8" transform="rotate(8 774.2 769.1)"/>
<path d="M806.1 797.7C806.3 796.0 807.3 793.2 808.4 791.8C809.5 790.5 810.8 789.8 812.5 789.5C814.2 789.2 816.6 789.1 818.3 790.1C820.1 791.1 822.0 793.3 823.0 795.3C824.0 797.4 824.3 800.0 824.2 802.3C824.1 804.7 823.4 807.5 822.4 809.3C821.4 811.2 819.7 813.0 818.3 813.4C817.0 813.8 815.5 812.9 814.3 811.7C813.0 810.4 811.9 807.5 810.8 805.8C809.6 804.2 808.0 803.1 807.3 801.8C806.5 800.4 805.9 799.3 806.1 797.7Z"/>
<path d="M781.0 822.2C779.3 820.2 782.5 813.4 783.3 810.5C784.2 807.6 784.9 806.2 786.3 804.7C787.6 803.1 789.8 801.4 791.5 801.2C793.3 801.0 795.7 802.3 796.8 803.5C797.8 804.7 798.1 806.2 797.9 808.2C797.7 810.1 796.4 812.8 795.6 815.2C794.8 817.5 795.7 821.0 793.3 822.2C790.8 823.3 782.7 824.1 781.0 822.2Z"/>
<path d="M828.8 822.2C823.6 820.6 831.4 815.6 833.5 812.8C835.6 810.1 839.1 807.8 841.7 805.8C844.2 803.9 846.7 802.3 848.7 801.2C850.6 800.0 851.4 799.0 853.3 798.8C855.3 798.6 859.0 798.3 860.3 800.0C861.7 801.8 860.3 807.8 861.5 809.3C862.7 810.9 866.2 808.6 867.3 809.3C868.5 810.1 868.9 811.9 868.5 814.0C868.1 816.1 871.6 820.8 865.0 822.2C858.4 823.5 834.1 823.7 828.8 822.2Z"/>
<ellipse cx="841.7" cy="736.4" rx="3.7" ry="3.7"/>
<path d="M865.0 760.3C864.7 759.3 865.2 757.4 866.2 756.3C867.1 755.1 869.1 754.4 870.8 753.3C872.6 752.3 875.0 751.0 876.7 749.8C878.3 748.7 879.7 746.5 880.8 746.3C881.8 746.1 882.8 747.5 883.1 748.7C883.4 749.8 883.4 751.9 882.5 753.3C881.6 754.8 879.6 756.4 877.8 757.4C876.1 758.4 873.7 758.3 872.0 759.2C870.3 760.0 869.1 762.5 867.9 762.7C866.8 762.9 865.3 761.4 865.0 760.3Z"/>
<path d="M616.0 751.4C616.4 749.9 617.6 747.6 618.4 745.5C619.3 743.3 620.1 740.6 621.1 738.4C622.1 736.2 623.1 733.9 624.4 732.5C625.6 731.0 627.2 730.1 628.7 729.7C630.2 729.4 632.6 729.5 633.6 730.3C634.6 731.1 635.0 732.8 634.9 734.6C634.8 736.4 633.9 739.0 633.0 741.1C632.2 743.2 630.9 745.0 629.8 747.1C628.7 749.2 627.7 751.8 626.5 753.6C625.4 755.4 624.0 757.3 622.7 757.9C621.5 758.5 620.0 757.9 619.0 757.4C617.9 756.8 617.0 755.7 616.5 754.7C616.0 753.7 615.7 753.0 616.0 751.4Z"/>
<ellipse cx="683.4" cy="740.8" rx="3.5" ry="4.0"/>
<path d="M709.4 792.0C709.8 791.2 711.4 789.7 712.7 788.8C713.9 787.9 715.9 786.7 717.0 786.6C718.1 786.5 719.2 787.5 719.2 788.2C719.2 789.0 718.0 790.1 717.0 791.0C716.0 791.8 714.3 792.7 713.2 793.1C712.1 793.6 711.1 793.8 710.5 793.7C709.9 793.5 709.1 792.9 709.4 792.0Z"/>
<ellipse cx="443.0" cy="798.7" rx="5.8" ry="8.0" transform="rotate(-40 443.0 798.7)"/>
</g>
<g fill="#0000ff">
<ellipse cx="811.3" cy="247.8" rx="3.4" ry="2.9"/>
<path d="M834.0 256.5C834.4 255.1 836.0 252.2 837.6 250.7C839.3 249.2 842.1 248.0 843.9 247.6C845.7 247.1 847.6 247.3 848.6 248.1C849.6 248.9 850.1 250.8 849.7 252.3C849.2 253.8 847.6 255.8 846.0 257.0C844.3 258.2 841.6 259.3 839.7 259.6C837.9 259.8 836.0 259.1 835.0 258.5C834.1 258.0 833.6 257.8 834.0 256.5Z"/>
<ellipse cx="834.5" cy="293.0" rx="3.1" ry="6.1" transform="rotate(15 834.5 293.0)"/>
<path d="M770.0 420.5C770.1 419.2 770.4 417.1 771.5 415.3C772.6 413.4 775.1 411.2 776.8 409.6C778.4 408.1 779.8 406.3 781.3 405.9C782.8 405.4 784.5 406.2 785.8 407.0C787.0 407.8 788.4 409.4 788.8 410.8C789.1 412.1 788.6 413.8 788.0 415.3C787.4 416.8 786.4 418.3 785.0 419.8C783.6 421.3 781.6 423.4 779.8 424.3C777.9 425.1 775.3 424.8 773.8 424.6C772.3 424.4 771.4 423.8 770.8 423.1C770.1 422.4 769.9 421.8 770.0 420.5Z"/>
<path d="M789.5 423.1L790.6 424.8L788.4 424.8Z"/>
<path d="M657.1 384.4C657.6 382.7 660.7 378.7 662.6 376.7C664.4 374.7 666.3 373.1 668.0 372.4C669.7 371.7 671.2 371.9 672.7 372.4C674.1 372.8 676.1 373.9 676.6 375.1C677.0 376.3 676.3 378.2 675.4 379.8C674.5 381.3 672.9 383.1 671.1 384.4C669.4 385.7 666.8 387.1 664.9 387.6C662.9 388.0 660.7 387.7 659.4 387.2C658.1 386.6 656.6 386.2 657.1 384.4Z"/>
<ellipse cx="688.6" cy="365.0" rx="3.0" ry="5.3" transform="rotate(30 688.6 365.0)"/>
<ellipse cx="614.4" cy="461.3" rx="5.4" ry="5.4"/>
<ellipse cx="659.0" cy="472.4" rx="5.1" ry="5.4"/>
<ellipse cx="702.7" cy="443.2" rx="2.9" ry="6.3" transform="rotate(45 702.7 443.2)"/>
<ellipse cx="835.4" cy="488.3" rx="0.7" ry="0.7"/>
<path d="M855.6 527.8C855.6 526.3 856.5 523.4 857.8 521.3C859.1 519.1 861.9 516.2 863.6 514.8C865.2 513.3 866.9 512.4 867.9 512.6C868.9 512.9 869.5 514.7 869.3 516.2C869.2 517.8 868.4 520.2 867.2 522.0C866.0 523.8 863.7 525.7 862.1 527.1C860.5 528.4 858.9 529.8 857.8 529.9C856.7 530.1 855.6 529.2 855.6 527.8Z"/>
<ellipse cx="883.8" cy="525.6" rx="3.2" ry="6.1"/>
<path d="M729.9 661.2C729.9 659.2 730.0 655.9 731.1 654.2C732.2 652.4 734.7 651.0 736.3 650.7C738.0 650.4 740.0 650.9 741.0 652.4C742.0 654.0 741.4 657.4 742.2 660.0C742.9 662.6 744.7 665.8 745.7 668.2C746.6 670.5 747.7 672.2 748.0 674.0C748.3 675.8 748.2 678.1 747.4 679.3C746.6 680.4 744.7 681.3 743.3 681.0C742.0 680.7 740.7 679.1 739.3 677.5C737.8 675.9 735.9 673.6 734.6 671.7C733.2 669.7 731.9 667.6 731.1 665.8C730.3 664.1 729.9 663.1 729.9 661.2Z"/>
<ellipse cx="755.9" cy="699.7" rx="4.9" ry="6.1" transform="rotate(25 755.9 699.7)"/>
<ellipse cx="809.6" cy="639.2" rx="3.3" ry="4.1" transform="rotate(-15 809.6 639.2)"/>
<ellipse cx="817.4" cy="649.9" rx="4.4" ry="4.9" transform="rotate(-20 817.4 649.9)"/>
<ellipse cx="847.2" cy="656.5" rx="3.7" ry="5.8" transform="rotate(15 847.2 656.5)"/>
<ellipse cx="894.6" cy="667.3" rx="1.2" ry="1.2"/>
<path d="M920.5 651.2C920.5 649.4 921.4 647.4 922.4 646.3C923.4 645.1 925.3 644.2 926.7 644.4C928.0 644.6 929.6 645.8 930.3 647.5C931.0 649.2 931.0 652.4 930.9 654.8C930.8 657.3 930.4 661.0 929.7 662.2C929.0 663.3 927.9 662.5 926.7 661.6C925.4 660.6 923.4 658.4 922.4 656.7C921.4 654.9 920.5 652.9 920.5 651.2Z"/>
<path d="M905.3 675.6C905.1 674.2 906.1 673.2 907.1 672.6C908.1 671.9 909.9 671.4 911.4 671.7C912.8 672.0 914.9 673.0 915.7 674.4C916.4 675.8 916.5 678.6 916.0 679.9C915.5 681.2 913.9 682.1 912.6 682.3C911.3 682.5 909.5 682.2 908.3 681.1C907.1 680.0 905.5 677.0 905.3 675.6Z"/>
<ellipse cx="928.7" cy="677.5" rx="5.5" ry="8.8"/>
<ellipse cx="774.1" cy="769.1" rx="3.7" ry="5.8" transform="rotate(8 774.1 769.1)"/>
<path d="M809.2 796.5C809.4 795.1 810.4 793.2 811.3 792.4C812.3 791.6 813.7 791.3 814.8 791.8C816.0 792.3 817.5 793.6 818.3 795.3C819.2 797.1 820.0 800.3 820.1 802.3C820.2 804.4 819.6 806.5 818.9 807.6C818.2 808.7 817.0 809.1 816.0 808.8C815.0 808.4 814.1 806.6 813.1 805.3C812.1 803.9 810.8 802.0 810.2 800.6C809.5 799.1 809.0 797.9 809.2 796.5Z"/>
<path d="M782.2 822.2C781.0 820.4 783.6 814.4 784.5 811.7C785.4 808.9 786.3 807.2 787.4 805.8C788.6 804.5 790.2 803.5 791.5 803.5C792.8 803.5 794.3 804.7 795.0 805.8C795.7 807.0 795.9 808.8 795.6 810.5C795.3 812.3 793.9 814.4 793.3 816.3C792.6 818.3 793.3 821.2 791.5 822.2C789.7 823.1 783.3 823.9 782.2 822.2Z"/>
<path d="M830.0 822.2C826.8 821.0 832.7 817.1 834.7 815.2C836.6 813.2 839.1 812.1 841.7 810.5C844.2 808.9 847.9 806.4 849.8 805.8C851.8 805.3 852.6 805.6 853.3 807.0C854.1 808.4 854.4 811.5 854.5 814.0C854.6 816.5 858.0 820.8 853.9 822.2C849.8 823.5 833.2 823.3 830.0 822.2Z"/>
<path d="M619.0 751.4C619.0 749.7 620.0 747.1 620.6 744.9C621.2 742.7 621.9 740.2 622.7 738.4C623.6 736.6 624.3 735.2 625.5 734.1C626.6 733.0 628.7 732.0 629.8 731.9C630.9 731.8 631.5 732.5 632.0 733.5C632.4 734.5 632.6 736.2 632.3 737.9C632.0 739.5 631.2 741.5 630.3 743.3C629.5 745.1 628.3 746.9 627.1 748.7C625.9 750.5 624.4 753.0 623.3 754.1C622.2 755.2 621.3 755.7 620.6 755.2C619.9 754.8 619.0 753.1 619.0 751.4Z"/>
<ellipse cx="442.5" cy="798.5" rx="3.6" ry="4.6" transform="rotate(-40 442.5 798.5)"/>
</g>
<g fill="#00ff00">
<path d="M836.1 255.9C836.5 254.8 837.9 252.5 839.2 251.2C840.5 250.0 842.4 248.9 843.9 248.6C845.4 248.4 847.3 249.0 848.1 249.7C848.9 250.4 849.1 251.7 848.6 252.8C848.1 253.9 846.4 255.5 845.0 256.5C843.5 257.4 841.1 258.3 839.7 258.5C838.3 258.8 837.2 258.5 836.6 258.0C836.0 257.6 835.6 257.1 836.1 255.9Z"/>
<ellipse cx="835.2" cy="292.5" rx="1.3" ry="2.9" transform="rotate(10 835.2 292.5)"/>
<path d="M771.1 419.8C771.4 418.6 771.9 416.9 773.0 415.3C774.1 413.6 776.0 411.4 777.5 410.0C779.0 408.6 780.6 407.3 782.0 407.0C783.4 406.8 784.8 407.8 785.8 408.5C786.7 409.3 787.5 410.3 787.6 411.5C787.8 412.8 787.2 414.6 786.5 416.0C785.8 417.4 784.8 418.5 783.5 419.8C782.3 421.0 780.6 422.8 779.0 423.5C777.4 424.2 775.0 424.1 773.8 423.9C772.5 423.7 771.9 423.1 771.5 422.4C771.1 421.7 770.9 420.9 771.1 419.8Z"/>
<path d="M659.4 383.7C659.8 382.4 661.8 379.5 663.3 377.8C664.9 376.2 667.1 374.5 668.8 373.9C670.5 373.4 672.5 374.0 673.4 374.7C674.4 375.4 675.0 376.7 674.6 378.2C674.2 379.7 672.6 382.4 671.1 383.7C669.6 385.0 667.4 385.7 665.7 386.0C664.0 386.3 662.0 386.0 661.0 385.6C660.0 385.2 659.1 385.0 659.4 383.7Z"/>
<ellipse cx="688.8" cy="365.0" rx="1.7" ry="3.3" transform="rotate(30 688.8 365.0)"/>
<ellipse cx="614.4" cy="461.6" rx="4.3" ry="4.5"/>
<ellipse cx="659.1" cy="472.4" rx="3.9" ry="4.3"/>
<ellipse cx="702.3" cy="443.4" rx="1.8" ry="3.9" transform="rotate(45 702.3 443.4)"/>
<path d="M856.6 527.1C856.9 525.9 857.9 523.2 859.2 521.3C860.5 519.4 862.9 516.7 864.3 515.5C865.7 514.3 867.0 513.8 867.6 514.1C868.3 514.3 868.5 515.6 868.2 516.9C867.9 518.3 866.9 520.4 865.7 522.0C864.6 523.6 862.7 525.3 861.4 526.3C860.1 527.4 858.6 528.4 857.8 528.5C857.0 528.6 856.4 528.3 856.6 527.1Z"/>
<ellipse cx="883.8" cy="525.9" rx="2.2" ry="4.6"/>
<path d="M730.7 661.2C730.7 659.4 730.7 656.3 731.7 654.8C732.6 653.2 734.9 651.9 736.3 651.6C737.7 651.3 739.3 651.6 740.1 653.0C740.9 654.4 740.5 657.6 741.2 660.0C742.0 662.4 743.5 665.3 744.5 667.6C745.5 669.9 746.7 672.3 747.1 674.0C747.4 675.8 747.2 677.1 746.6 678.1C746.0 679.1 744.5 680.0 743.3 679.8C742.2 679.6 741.2 678.4 739.8 676.9C738.5 675.5 736.5 673.0 735.2 671.1C733.8 669.1 732.4 666.9 731.7 665.3C730.9 663.6 730.7 662.9 730.7 661.2Z"/>
<ellipse cx="755.9" cy="699.7" rx="4.2" ry="5.4" transform="rotate(25 755.9 699.7)"/>
<ellipse cx="809.6" cy="639.2" rx="2.3" ry="2.6" transform="rotate(-15 809.6 639.2)"/>
<ellipse cx="817.4" cy="649.9" rx="3.3" ry="3.7" transform="rotate(-20 817.4 649.9)"/>
<ellipse cx="847.2" cy="656.5" rx="2.9" ry="4.7" transform="rotate(15 847.2 656.5)"/>
<path d="M921.4 651.2C921.4 649.6 922.1 647.8 923.0 646.9C923.9 645.9 925.6 645.2 926.7 645.4C927.7 645.6 928.9 646.5 929.5 648.1C930.0 649.7 930.1 652.7 930.1 654.8C930.0 657.0 929.6 660.0 929.1 660.9C928.6 661.9 928.0 661.4 927.0 660.6C926.0 659.8 923.9 657.6 923.0 656.0C922.1 654.5 921.4 652.7 921.4 651.2Z"/>
<path d="M906.1 675.6C905.9 674.4 906.8 673.8 907.7 673.3C908.6 672.8 910.2 672.3 911.4 672.6C912.6 672.8 914.2 673.6 914.8 674.8C915.4 675.9 915.4 678.5 915.0 679.7C914.6 680.8 913.4 681.3 912.3 681.5C911.3 681.6 909.7 681.5 908.7 680.5C907.6 679.5 906.3 676.8 906.1 675.6Z"/>
<ellipse cx="928.7" cy="677.5" rx="4.6" ry="7.8"/>
<ellipse cx="774.2" cy="769.1" rx="2.6" ry="3.7" transform="rotate(8 774.2 769.1)"/>
<path d="M810.2 796.5C810.3 795.4 811.1 793.9 811.9 793.4C812.7 792.8 813.9 792.5 814.8 793.0C815.8 793.5 817.1 794.9 817.8 796.5C818.4 798.1 818.9 800.7 818.9 802.3C819.0 804.0 818.6 805.6 818.1 806.4C817.6 807.2 816.7 807.4 816.0 807.0C815.3 806.6 814.5 805.3 813.7 804.1C812.9 802.9 811.7 801.3 811.1 800.0C810.5 798.7 810.0 797.6 810.2 796.5Z"/>
<path d="M783.3 822.2C782.5 820.4 784.9 814.2 785.7 811.7C786.4 809.1 787.1 808.2 788.0 807.0C788.9 805.8 790.3 804.7 791.3 804.7C792.3 804.7 793.5 806.0 794.1 807.0C794.6 808.0 794.7 808.9 794.4 810.5C794.1 812.1 792.7 814.4 792.1 816.3C791.4 818.3 792.0 821.2 790.6 822.2C789.1 823.1 784.2 823.9 783.3 822.2Z"/>
<path d="M831.4 822.2C828.6 821.1 834.0 817.5 835.8 815.8C837.6 814.0 840.0 813.0 842.3 811.7C844.5 810.3 847.6 808.1 849.3 807.6C850.9 807.1 851.5 807.7 852.2 808.8C852.8 809.8 853.0 811.8 853.1 814.0C853.2 816.2 856.4 820.8 852.8 822.2C849.1 823.5 834.2 823.2 831.4 822.2Z"/>
<path d="M620.8 752.5C620.7 751.2 621.2 747.7 621.7 745.5C622.1 743.2 622.9 740.8 623.6 739.0C624.3 737.2 625.1 735.6 626.0 734.6C626.9 733.7 628.4 733.2 629.2 733.2C630.1 733.2 630.8 733.8 631.2 734.6C631.6 735.4 631.7 736.5 631.4 737.9C631.1 739.2 630.2 741.0 629.2 742.7C628.3 744.5 627.2 746.5 626.0 748.2C624.8 749.9 623.1 752.3 622.2 753.0C621.3 753.8 620.9 753.8 620.8 752.5Z"/>
<ellipse cx="442.5" cy="798.7" rx="2.7" ry="3.3" transform="rotate(-40 442.5 798.7)"/>
</g>
<g fill="#00cc00">
<ellipse cx="843.7" cy="252.8" rx="2.3" ry="1.7" transform="rotate(-30 843.7 252.8)"/>
<path d="M772.6 419.4C772.6 418.2 773.2 416.8 774.1 415.3C775.1 413.8 776.9 411.6 778.3 410.4C779.6 409.2 781.1 408.0 782.4 407.9C783.6 407.8 785.1 408.8 785.8 410.0C786.4 411.2 786.6 413.7 786.1 415.3C785.6 416.8 784.1 418.2 782.8 419.4C781.4 420.6 779.7 421.9 778.3 422.4C776.8 422.9 775.1 422.9 774.1 422.4C773.2 421.9 772.6 420.6 772.6 419.4Z"/>
<ellipse cx="668.0" cy="379.8" rx="4.3" ry="3.3" transform="rotate(-35 668.0 379.8)"/>
<ellipse cx="614.7" cy="461.6" rx="1.9" ry="1.9"/>
<ellipse cx="659.3" cy="472.2" rx="1.9" ry="2.4" transform="rotate(20 659.3 472.2)"/>
<ellipse cx="862.4" cy="521.3" rx="1.4" ry="6.5" transform="rotate(38 862.4 521.3)"/>
<path d="M732.3 660.6C732.3 659.0 732.6 656.5 733.4 655.3C734.2 654.2 735.9 653.6 736.9 653.6C737.9 653.6 738.8 654.1 739.3 655.3C739.7 656.6 739.2 658.8 739.8 661.2C740.5 663.5 742.4 667.1 743.3 669.3C744.3 671.6 745.3 673.3 745.4 674.6C745.5 675.8 744.7 676.8 743.9 676.9C743.2 677.0 742.2 676.3 741.0 675.2C739.8 674.0 738.2 671.7 736.9 669.9C735.7 668.2 734.2 666.2 733.4 664.7C732.6 663.1 732.3 662.1 732.3 660.6Z"/>
<ellipse cx="756.2" cy="699.7" rx="2.9" ry="3.9" transform="rotate(25 756.2 699.7)"/>
<ellipse cx="926.0" cy="650.5" rx="2.4" ry="3.4"/>
<ellipse cx="911.1" cy="677.1" rx="2.0" ry="2.0"/>
<ellipse cx="928.7" cy="677.5" rx="2.4" ry="4.9"/>
<ellipse cx="789.2" cy="813.4" rx="2.1" ry="6.4" transform="rotate(15 789.2 813.4)"/>
<ellipse cx="845.8" cy="814.9" rx="5.3" ry="2.3" transform="rotate(-30 845.8 814.9)"/>
<ellipse cx="626.5" cy="739.5" rx="2.2" ry="3.5" transform="rotate(15 626.5 739.5)"/>
</g>
<g fill="#009900">
<path d="M773.8 419.0C773.9 418.0 774.4 416.6 775.3 415.3C776.1 413.9 777.8 411.8 779.0 410.8C780.3 409.7 781.6 408.8 782.8 408.9C783.9 409.0 785.4 410.3 785.8 411.5C786.1 412.7 785.6 414.8 785.0 416.0C784.4 417.3 783.3 418.1 782.0 419.0C780.8 419.9 778.8 421.3 777.5 421.6C776.3 422.0 775.1 421.7 774.5 421.3C773.9 420.8 773.6 420.0 773.8 419.0Z"/>
<ellipse cx="668.2" cy="380.2" rx="0.9" ry="1.4"/>
<ellipse cx="739.8" cy="669.9" rx="1.8" ry="5.3" transform="rotate(-30 739.8 669.9)"/>
<ellipse cx="756.4" cy="699.7" rx="1.8" ry="2.3" transform="rotate(25 756.4 699.7)"/>
</g>
<g fill="#ffff00">
<path d="M776.0 417.1C776.1 416.3 776.8 414.9 777.5 413.8C778.3 412.6 779.4 411.0 780.5 410.4C781.6 409.8 783.3 409.6 783.9 410.0C784.5 410.4 784.4 411.9 784.3 413.0C784.1 414.1 783.5 415.8 782.8 416.8C782.0 417.8 780.8 418.7 779.8 419.0C778.8 419.3 777.4 418.9 776.8 418.6C776.1 418.3 775.9 417.9 776.0 417.1Z"/>
<path d="M732.8 660.0C732.7 658.9 732.8 657.4 733.4 656.5C734.0 655.6 735.5 654.7 736.3 654.8C737.2 654.8 738.0 655.9 738.3 657.1C738.6 658.3 738.4 660.5 738.1 661.8C737.8 663.0 737.0 664.5 736.3 664.7C735.7 664.9 734.6 663.7 734.0 662.9C733.4 662.1 732.9 661.1 732.8 660.0Z"/>
</g>
</g>
<g class="grid">
<path class="gv" d="M301.25 811.41V79.40"/>
<path class="gv" d="M359.07 811.41V79.40"/>
<path class="gv" d="M416.89 811.41V79.40"/>
<path class="gv" d="M474.72 811.41V79.40"/>
<path class="gv" d="M532.54 811.41V79.40"/>
<path class="gv" d="M590.36 811.41V79.40"/>
<path class="gv" d="M648.19 811.41V79.40"/>
<path class="gv" d="M706.01 811.41V79.40"/>
<path class="gv" d="M763.83 811.41V79.40"/>
<path class="gv" d="M821.65 811.41V79.40"/>
<path class="gv" d="M879.48 811.41V79.40"/>
<path class="gh" d="M271.95 124.31H937.30"/>
<path class="gh" d="M271.95 191.67H937.30"/>
<path class="gh" d="M271.95 259.04H937.30"/>
<path class="gh" d="M271.95 326.40H937.30"/>
<path class="gh" d="M271.95 393.76H937.30"/>
<path class="gh" d="M271.95 461.13H937.30"/>
<path class="gh" d="M271.95 528.49H937.30"/>
<path class="gh" d="M271.95 595.85H937.30"/>
<path class="gh" d="M271.95 663.22H937.30"/>
<path class="gh" d="M271.95 730.58H937.30"/>
<path class="gh" d="M271.95 797.95H937.30"/>
</g>
<g clip-path="url(#mapclip)" class="coast">
<path d="M278.0 79.6L288.0 95.6L295.6 102.0L300.0 111.0L304.0 122.0L322.4 129.6L325.6 139.6L318.0 135.6L310.6 141.4L317.6 148.4L322.4 156.0L317.6 163.2L308.0 161.6L299.0 165.4L291.6 159.6L278.0 171.6L295.0 179.6L308.6 191.4L319.0 189.6L325.6 195.4L327.6 208.0L327.6 221.0L324.4 233.0L332.6 229.6L330.0 239.6L321.0 243.6L314.0 249.0L303.6 251.4L300.0 260.6L305.6 271.4L300.0 279.4L293.0 285.6L288.4 293.6L293.6 302.0L291.6 313.6L293.6 326.0L299.0 335.0L305.6 353.6L331.0 393.4L348.0 401.0L359.0 401.0L380.0 405.0L390.0 409.6L403.0 421.0L429.0 461.0L437.4 465.0L444.0 445.4L452.6 441.4L454.4 429.4L464.6 431.2L475.0 415.0L482.0 409.4L471.6 411.4L468.6 400.0L468.0 385.4L456.0 385.4L449.0 379.4L439.0 377.0L431.0 373.0L420.0 357.0L411.6 351.0L407.0 314.4L399.0 309.0L407.0 315.6L417.0 331.4L425.6 335.4L435.6 333.4L441.0 341.4L451.0 343.6L456.0 351.0L464.6 355.4L470.0 363.0L477.0 368.0L484.0 371.6L490.0 373.6L497.6 375.6L489.0 379.4L499.0 377.0L506.0 383.0L507.6 395.0L515.0 401.6L520.0 410.0L524.6 418.0L524.6 431.0L519.4 439.4L518.0 451.4L525.0 457.0L530.0 465.0L536.0 470.6L544.0 479.4L554.0 477.4L564.0 479.4L573.0 483.4L590.0 486.6L594.0 488.0L610.0 495.4L621.0 511.0L631.0 513.4L646.0 520.6L658.0 525.0L672.0 537.0L677.0 545.4L685.0 549.0L692.0 555.0L698.0 563.4L705.0 569.4L710.0 579.0L716.0 585.0L722.0 594.0L725.6 603.0L722.4 612.0L723.6 625.0L728.6 633.0L721.0 640.0L717.0 646.0L727.0 644.4L718.6 648.0L717.0 660.6L710.0 666.6L704.0 672.4L699.6 682.4L708.0 698.0L723.0 710.0L729.0 718.6L737.6 722.6L749.4 720.6L784.0 736.6L789.0 729.0L789.0 715.0L785.6 705.0L780.0 696.6L764.0 690.0L758.0 682.0L751.4 661.0L773.6 656.6L784.0 673.0L802.0 681.0L810.6 683.0L818.0 688.6L806.0 689.0L811.0 697.0L821.0 699.0L813.0 702.6L818.0 711.0L821.0 723.0L816.0 731.0L814.4 742.0L825.0 753.0L836.0 759.0L843.0 766.0L850.0 777.0L853.3 779.0L860.2 797.7L860.4 814.0L867.3 814.0L869.4 802.3L866.2 793.0L865.6 780.2L867.3 767.3L872.6 758.6L886.0 751.0L900.0 748.6L920.0 752.0L930.0 756.4L937.6 758.0"/>
<path d="M322.4 129.6L326.0 119.0L331.0 111.0L334.8 101.6L344.6 99.6L359.0 111.6L368.0 116.0L388.0 120.0L417.0 134.0L473.4 159.4L482.0 156.0L488.0 150.0L496.0 143.6L504.0 140.0L511.6 133.6L519.4 129.6L526.4 135.4L538.4 135.4L545.0 141.4L553.6 145.6L561.0 153.6L569.4 157.6L579.4 147.6L583.0 157.6L588.0 165.4L605.0 173.4L608.0 182.0L610.6 195.6L622.4 195.6L631.0 199.6L639.4 195.6L648.0 199.6L662.0 211.6L672.0 209.6L680.0 206.0L690.0 199.6L700.0 197.4L708.0 193.6L715.0 187.6L712.0 163.0"/>
<path d="M326.0 79.6L333.0 86.0L350.0 94.0L355.0 102.0L372.0 109.6L392.4 113.4L401.0 117.6L408.0 123.4L418.0 125.6L430.0 125.6L440.0 128.0L457.6 135.4L470.0 135.4L478.6 139.4L488.0 138.0L495.0 132.0L499.0 123.0L498.0 106.0L499.0 96.0L496.0 88.0L490.0 79.6"/>
<path d="M450.0 101.0L456.4 109.6L447.4 113.4L450.0 101.0"/>
<path d="M673.6 79.6L675.0 94.0L677.6 108.0L684.0 127.0L690.0 138.0L700.0 153.0L703.0 163.4L713.0 161.6L717.0 164.0L720.0 169.0L725.0 179.0L728.6 191.0L724.0 184.0L724.0 198.0L720.4 207.0L728.6 203.6L734.0 211.6L735.6 224.0L742.0 242.0L747.0 250.0L751.0 261.0L757.0 270.0L760.0 280.0L785.0 319.6L792.4 325.6L818.0 365.6L825.0 371.4L835.0 369.6L838.0 379.0L865.0 420.0L869.4 427.4L877.6 431.0L880.4 440.0L886.4 449.0L895.0 453.0L915.4 457.0L921.0 465.0L925.6 469.4L937.6 479.0"/>
<path d="M925.6 469.4L920.0 471.0L917.6 480.0L908.6 485.0L895.0 473.0L891.0 465.6L881.0 461.4L871.6 463.4L866.0 471.0L872.4 484.4L868.0 485.0L859.0 489.0L853.8 497.5L853.8 581.3L857.8 583.4L865.0 585.2L873.7 589.2L879.5 595.0L886.7 599.6L890.0 600.6L895.0 609.0L892.0 618.0L884.0 625.0L867.6 632.6L864.0 643.0L857.6 649.0L861.0 659.0L871.6 675.6L874.0 692.0L874.6 712.0L870.0 720.0L863.0 726.0L852.0 728.6L847.0 736.0L841.0 743.0L831.4 746.6L837.0 753.9L846.3 760.9L853.9 764.4L855.1 773.2L863.2 796.5L863.2 813.5"/>
<path d="M422.0 343.6L432.0 345.0L437.4 353.4L428.0 355.4L420.4 349.0L422.0 343.6"/>
</g>
<rect x="262.7" y="79.4" width="674.6" height="741.0" fill="none" stroke="#000" stroke-width="1.5"/>
<g stroke="#000" stroke-width="1.5" fill="none">
<path d="M301.25 820.40V825.90"/>
<path d="M359.07 820.40V825.90"/>
<path d="M416.89 820.40V825.90"/>
<path d="M474.72 820.40V825.90"/>
<path d="M532.54 820.40V825.90"/>
<path d="M590.36 820.40V825.90"/>
<path d="M648.19 820.40V825.90"/>
<path d="M706.01 820.40V825.90"/>
<path d="M763.83 820.40V825.90"/>
<path d="M821.65 820.40V825.90"/>
<path d="M879.48 820.40V825.90"/>
<path d="M262.70 124.31H257.20"/>
<path d="M262.70 191.67H257.20"/>
<path d="M262.70 259.04H257.20"/>
<path d="M262.70 326.40H257.20"/>
<path d="M262.70 393.76H257.20"/>
<path d="M262.70 461.13H257.20"/>
<path d="M262.70 528.49H257.20"/>
<path d="M262.70 595.85H257.20"/>
<path d="M262.70 663.22H257.20"/>
<path d="M262.70 730.58H257.20"/>
<path d="M262.70 797.95H257.20"/>
</g>
<text class="title" transform="translate(0 30.50) scale(0.7650 1)" x="171.0 181.7 212.6 245.9 267.2 290.6 313.5 339.1 363.3 388.4 397.8 424.9 453.4 465.0 491.4 513.7 536.1 564.5 580.6 603.8 623.9 633.8 657.6 668.8 683.5 707.7 729.1 740.2 764.5 786.1 807.7 833.2 855.7 880.0 916.1 938.4 949.4 973.5 996.5 1019.6 1042.7 1066.1 1089.3 1112.5 1136.1 1159.6 1184.5 1207.1 1223.0 1247.1 1268.5 1290.0 1308.9 1347.7 1384.1" y="0 0 0 5.8 0 0 0 0 0 0 0 0 0 0 0 0 0 0 0 0 0 0 0 0 0 0 0 0 0 0 0 0 0 0 0 0 0 0 0 0 0 0 0 0 0 0 0 0 0 0 0 0 0 0 0">IMN<tspan style="font-size:46px;stroke-width:1.9px">/</tspan>SARAPIQUI_5 Precipitacion Acumulada en 6 horas (mm)</text>
<text class="title" transform="translate(0 62.30) scale(0.9400 1)" x="492.6 513.9 533.4 552.5 569.7 599.5 619.4 636.8 666.4 686.4 704.9 723.4 745.7 765.0" y="0 0 0 0 14.8 0 0 14.8 0 0 0 0 0 0">2025<tspan style="font-size:94px;stroke-width:5.6px">-</tspan>12<tspan style="font-size:94px;stroke-width:5.6px">-</tspan>02 18Z</text>
<text class="foot" transform="translate(0 877.20) scale(0.9700 1)" x="336.9 345.2 361.6 376.5 385.5 392.9 402.5 418.6 429.2 443.7 458.2 479.7 496.0 505.4 521.1 536.6 547.9 563.4 571.0 586.6 602.0 609.4 624.6 639.6 654.6 673.6 690.0 704.7 712.0 727.5 743.7 760.1 770.6 781.1 800.3 816.2 831.0 840.4 855.1 869.9 888.9 896.1 911.1" y="0 0 0 0 0 0 0 0 0 0 0 0 0 0 0 0 0 0 0 0 0 0 0 0 0 0 0 0 0 0 0 0 0 0 0 0 0 0 0 0 0 0 0">Instituto Meteorologico Nacional Costa Rica</text>
<text class="ax" transform="translate(278.80 840.90) scale(0.8300 1)" style="letter-spacing:0.353px">85.8W</text>
<text class="ax" transform="translate(336.71 840.90) scale(0.8300 1)" style="letter-spacing:0.362px">85.5W</text>
<text class="ax" transform="translate(394.55 840.90) scale(0.8300 1)" style="letter-spacing:0.306px">85.2W</text>
<text class="ax" transform="translate(451.96 840.90) scale(0.8300 1)" style="letter-spacing:0.374px">84.9W</text>
<text class="ax" transform="translate(510.25 840.90) scale(0.8300 1)" style="letter-spacing:0.263px">84.6W</text>
<text class="ax" transform="translate(567.85 840.90) scale(0.8300 1)" style="letter-spacing:0.333px">84.3W</text>
<text class="ax" transform="translate(632.80 840.90) scale(0.8300 1)" style="letter-spacing:-0.169px">84W</text>
<text class="ax" transform="translate(683.63 840.90) scale(0.8300 1)" style="letter-spacing:0.272px">83.7W</text>
<text class="ax" transform="translate(741.47 840.90) scale(0.8300 1)" style="letter-spacing:0.340px">83.4W</text>
<text class="ax" transform="translate(799.28 840.90) scale(0.8300 1)" style="letter-spacing:0.287px">83.1W</text>
<text class="ax" transform="translate(856.88 840.90) scale(0.8300 1)" style="letter-spacing:0.350px">82.8W</text>
<text class="ax" transform="translate(209.52 130.80) scale(0.8300 1)" style="letter-spacing:1.437px">11.1N</text>
<text class="ax" transform="translate(209.52 198.16) scale(0.8300 1)" style="letter-spacing:1.136px">10.8N</text>
<text class="ax" transform="translate(209.52 265.51) scale(0.8300 1)" style="letter-spacing:1.136px">10.5N</text>
<text class="ax" transform="translate(209.52 332.87) scale(0.8300 1)" style="letter-spacing:1.136px">10.2N</text>
<text class="ax" transform="translate(218.86 400.22) scale(0.8300 1)" style="letter-spacing:1.045px">9.9N</text>
<text class="ax" transform="translate(218.86 467.58) scale(0.8300 1)" style="letter-spacing:1.045px">9.6N</text>
<text class="ax" transform="translate(218.86 534.93) scale(0.8300 1)" style="letter-spacing:1.045px">9.3N</text>
<text class="ax" transform="translate(233.54 602.28) scale(0.8300 1)" style="letter-spacing:0.415px">9N</text>
<text class="ax" transform="translate(218.41 669.64) scale(0.8300 1)" style="letter-spacing:1.226px">8.7N</text>
<text class="ax" transform="translate(218.41 736.99) scale(0.8300 1)" style="letter-spacing:1.226px">8.4N</text>
<text class="ax" transform="translate(218.41 804.35) scale(0.8300 1)" style="letter-spacing:1.226px">8.1N</text>
<text class="cb" transform="translate(1085.50 139.80) scale(0.9800 1)" style="letter-spacing:1.898px">200</text>
<text class="cb" transform="translate(1087.72 182.17) scale(0.9800 1)" style="letter-spacing:0.707px">150</text>
<text class="cb" transform="translate(1087.72 224.54) scale(0.9800 1)" style="letter-spacing:0.707px">120</text>
<text class="cb" transform="translate(1087.72 266.91) scale(0.9800 1)" style="letter-spacing:0.707px">100</text>
<text class="cb" transform="translate(1085.56 309.28) scale(0.9800 1)" style="letter-spacing:2.821px">90</text>
<text class="cb" transform="translate(1085.62 351.65) scale(0.9800 1)" style="letter-spacing:2.806px">75</text>
<text class="cb" transform="translate(1085.50 394.02) scale(0.9800 1)" style="letter-spacing:2.886px">60</text>
<text class="cb" transform="translate(1085.55 436.39) scale(0.9800 1)" style="letter-spacing:2.836px">50</text>
<text class="cb" transform="translate(1085.74 478.76) scale(0.9800 1)" style="letter-spacing:2.641px">40</text>
<text class="cb" transform="translate(1085.60 521.13) scale(0.9800 1)" style="letter-spacing:2.786px">30</text>
<text class="cb" transform="translate(1085.50 563.50) scale(0.9800 1)" style="letter-spacing:2.921px">25</text>
<text class="cb" transform="translate(1085.50 605.87) scale(0.9800 1)" style="letter-spacing:2.881px">20</text>
<text class="cb" transform="translate(1087.31 648.24) scale(0.9800 1)" style="letter-spacing:0.870px">15</text>
<text class="cb" transform="translate(1087.31 690.61) scale(0.9800 1)" style="letter-spacing:0.820px">12.5</text>
<text class="cb" transform="translate(1085.18 732.98) scale(1.0067 1)" style="letter-spacing:1.000px">7</text>
<text class="cb" transform="translate(1085.60 775.35) scale(0.9800 1)" style="letter-spacing:1.450px">3.5</text>
<g stroke="#000" stroke-width="1.5" stroke-linejoin="miter">
<path d="M1057.7 132.5L1068.7 90.0L1079.6 132.5Z" fill="#aaaaaa"/>
<rect x="1057.7" y="132.50" width="21.9" height="42.37" fill="#f5f5f5"/>
<rect x="1057.7" y="174.87" width="21.9" height="42.37" fill="#9933cc"/>
<rect x="1057.7" y="217.24" width="21.9" height="42.37" fill="#ff00ff"/>
<rect x="1057.7" y="259.61" width="21.9" height="42.37" fill="#990000"/>
<rect x="1057.7" y="301.98" width="21.9" height="42.37" fill="#cc3300"/>
<rect x="1057.7" y="344.35" width="21.9" height="42.37" fill="#ff0000"/>
<rect x="1057.7" y="386.72" width="21.9" height="42.37" fill="#ff6600"/>
<rect x="1057.7" y="429.09" width="21.9" height="42.37" fill="#ffcc00"/>
<rect x="1057.7" y="471.46" width="21.9" height="42.37" fill="#ffff00"/>
<rect x="1057.7" y="513.83" width="21.9" height="42.37" fill="#009900"/>
<rect x="1057.7" y="556.20" width="21.9" height="42.37" fill="#00cc00"/>
<rect x="1057.7" y="598.57" width="21.9" height="42.37" fill="#00ff00"/>
<rect x="1057.7" y="640.94" width="21.9" height="42.37" fill="#0000ff"/>
<rect x="1057.7" y="683.31" width="21.9" height="42.37" fill="#3399ff"/>
<rect x="1057.7" y="725.68" width="21.9" height="42.37" fill="#66ffff"/>
<path d="M1057.7 768.0L1068.7 810.8L1079.6 768.0Z" fill="#ffffff"/>
</g>
</svg></body></html>
